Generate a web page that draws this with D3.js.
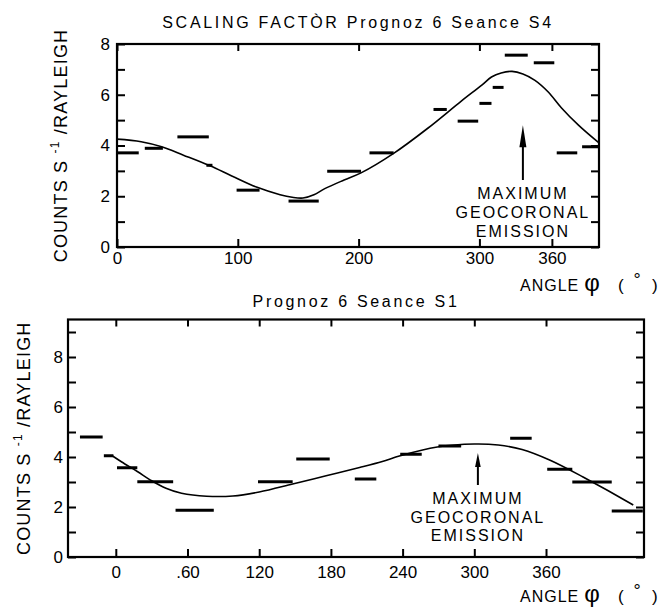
<!DOCTYPE html>
<html>
<head>
<meta charset="utf-8">
<script src="https://cdn.jsdelivr.net/npm/d3@7"></script>
<style>
    body { margin: 0; background: #fff; }
    svg { font-family: "Liberation Sans", Arial, sans-serif; }
    .frame { fill: none; stroke: #000; stroke-width: 2.2; }
    .tick line { stroke: #000; stroke-width: 2; }
    .tick text { font-family: "Liberation Sans", Arial, sans-serif; font-size: 17px; fill: #000; }
    .bar { stroke: #000; stroke-width: 3; }
    .curve { fill: none; stroke: #000; stroke-width: 1.6; }
    .note { font-size: 16px; letter-spacing: 2px; fill: #000; }
</style>
</head>
<body>
<div id="chart"></div>
<script>
// ---- top panel: Prognoz 6, seance S4 ----
// measured bins: [angle from, angle to, counts]
var s4Bars = [
    [0, 18, 3.71], [23, 38, 3.89], [50, 76, 4.34], [74, 79, 3.22],
    [99, 118, 2.24], [142, 167, 1.81], [174, 202, 2.99], [209, 229, 3.71],
    [262, 273, 5.42], [282, 299, 4.96], [300, 310, 5.66], [311, 320, 6.29],
    [321, 340, 7.56], [345, 362, 7.26], [364, 381, 3.71], [385, 399, 3.95]
];
// fitted curve: [angle, counts]
var s4Curve = [
    [0, 4.25], [20, 4.15], [37, 3.95], [55, 3.62], [77, 3.2], [95, 2.8],
    [116, 2.35], [135, 2.06], [145, 1.96], [154, 1.93], [163, 2.06], [172, 2.3],
    [188, 2.64], [202, 2.92], [229, 3.69], [257, 4.67], [285, 5.75], [302, 6.38],
    [310, 6.7], [318, 6.86], [327, 6.92], [336, 6.82], [346, 6.57], [357, 6.11],
    [368, 5.48], [382, 4.8], [399, 4.1]
];
var s4Arrow = [336, 2.64, 4.8];       // angle, base, tip
var s4XTicks = [0, 100, 200, 300, 360];
var s4XLabels = ["0", "100", "200", "300", "360"];
var s4YTicks = [0, 1, 2, 3, 4, 5, 6, 7, 8];
var s4YLabels = ["0", "", "2", "", "4", "", "6", "", "8"];

// ---- bottom panel: Prognoz 6, seance S1 ----
var s1Bars = [
    [-30, -11, 4.8], [-10, -2, 4.05], [1, 18, 3.57], [18, 48, 3.01],
    [50, 82, 1.87], [119, 148, 3.01], [151, 179, 3.92], [200, 218, 3.12],
    [238, 256, 4.11], [270, 289, 4.44], [330, 348, 4.75], [361, 382, 3.51],
    [382, 415, 3.0], [415, 441, 1.84]
];
var s1Curve = [
    [-3, 4.05], [5, 3.8], [18, 3.42], [30, 3.05], [42, 2.75], [55, 2.55],
    [76, 2.43], [98, 2.44], [120, 2.6], [148, 2.92], [176, 3.25], [204, 3.58],
    [223, 3.82], [238, 4.05], [269, 4.4], [300, 4.52], [320, 4.48], [340, 4.3],
    [363, 3.88], [391, 3.2], [433, 2.08]
];
var s1Arrow = [303, 2.88, 4.16];
var s1XTicks = [0, 60, 120, 180, 240, 300, 360];
var s1XLabels = ["0", ".60", "120", "180", "240", "300", "360"];
var s1YTicks = [0, 1, 2, 3, 4, 5, 6, 7, 8, 9];
var s1YLabels = ["0", "", "2", "", "4", "", "6", "", "8", ""];

var noteLines = ["MAXIMUM", "GEOCORONAL", "EMISSION"];

function init() {

    var w = 659;
    var h = 610;

    var svg = d3.select("#chart")
                .append("svg")
                .attr("width", w)
                .attr("height", h);

    drawPanel(svg, {
        left: 117, right: 599, top: 44, bottom: 247,
        xDomain: [0, 399], yDomain: [0, 8],
        xTicks: s4XTicks, xLabels: s4XLabels,
        yTicks: s4YTicks, yLabels: s4YLabels,
        xPad: 5, yPad: 7,
        bars: s4Bars, curve: s4Curve, arrow: s4Arrow,
        headLen: 22, headW: 3.5, noteStep: 19,
        title: "SCALING FACTÒR Prognoz 6 Seance S4", titleY: 28,
        yLabelX: 67, angleY: 291
    });

    drawPanel(svg, {
        left: 68, right: 644, top: 319.5, bottom: 557,
        xDomain: [-40, 442], yDomain: [0, 9.5],
        xTicks: s1XTicks, xLabels: s1XLabels,
        yTicks: s1YTicks, yLabels: s1YLabels,
        xPad: 9, yPad: 5,
        bars: s1Bars, curve: s1Curve, arrow: s1Arrow,
        headLen: 14, headW: 2.8, noteStep: 18.5,
        title: "Prognoz 6 Seance S1", titleY: 307,
        yLabelX: 30, angleY: 602
    });
}

function drawPanel(svg, p) {

    var xScale = d3.scaleLinear().domain(p.xDomain).range([p.left, p.right]);
    var yScale = d3.scaleLinear().domain(p.yDomain).range([p.bottom, p.top]);

    // ticks on all four sides, pointing inward
    var xAxis = d3.axisBottom(xScale)
                  .tickValues(p.xTicks)
                  .tickFormat(function(d, i) { return p.xLabels[i]; })
                  .tickSizeInner(-8).tickSizeOuter(0).tickPadding(p.xPad);
    var xTop = d3.axisTop(xScale)
                 .tickValues(p.xTicks).tickFormat("")
                 .tickSizeInner(-7).tickSizeOuter(0);
    var yAxis = d3.axisLeft(yScale)
                  .tickValues(p.yTicks)
                  .tickFormat(function(d, i) { return p.yLabels[i]; })
                  .tickSizeInner(-8).tickSizeOuter(0).tickPadding(p.yPad);
    var yRight = d3.axisRight(yScale)
                   .tickValues(p.yTicks).tickFormat("")
                   .tickSizeInner(-8).tickSizeOuter(0);

    svg.append("g").attr("transform", "translate(0," + p.bottom + ")").call(xAxis);
    svg.append("g").attr("transform", "translate(0," + p.top + ")").call(xTop);
    svg.append("g").attr("transform", "translate(" + p.left + ",0)").call(yAxis);
    svg.append("g").attr("transform", "translate(" + p.right + ",0)").call(yRight);
    svg.selectAll(".domain").remove();

    svg.append("rect")
        .attr("class", "frame")
        .attr("x", p.left).attr("y", p.top)
        .attr("width", p.right - p.left)
        .attr("height", p.bottom - p.top);

    // measured bins as horizontal dashes
    svg.append("g").selectAll("line")
        .data(p.bars)
        .enter().append("line")
        .attr("class", "bar")
        .attr("x1", function(d) { return xScale(d[0]); })
        .attr("x2", function(d) { return xScale(d[1]); })
        .attr("y1", function(d) { return yScale(d[2]); })
        .attr("y2", function(d) { return yScale(d[2]); });

    // model curve
    var line = d3.line()
                 .x(function(d) { return xScale(d[0]); })
                 .y(function(d) { return yScale(d[1]); })
                 .curve(d3.curveCatmullRom);

    svg.append("path")
        .datum(p.curve)
        .attr("class", "curve")
        .attr("d", line);

    // arrow to the maximum
    var ax = xScale(p.arrow[0]);
    var aBase = yScale(p.arrow[1]);
    var aTip = yScale(p.arrow[2]);
    svg.append("line")
        .attr("x1", ax).attr("x2", ax)
        .attr("y1", aBase).attr("y2", aTip + p.headLen - 1)
        .attr("stroke", "#000").attr("stroke-width", 2);
    svg.append("path")
        .attr("d", "M" + ax + "," + aTip +
                   "L" + (ax - p.headW) + "," + (aTip + p.headLen) +
                   "L" + (ax + p.headW) + "," + (aTip + p.headLen) + "Z")
        .attr("fill", "#000");

    svg.append("g").selectAll("text")
        .data(noteLines)
        .enter().append("text")
        .attr("class", "note")
        .attr("x", ax)
        .attr("y", function(d, i) { return aBase + 19 + i * p.noteStep; })
        .attr("text-anchor", "middle")
        .text(function(d) { return d; });

    // title
    svg.append("text")
        .attr("x", (p.left + p.right) / 2)
        .attr("y", p.titleY)
        .attr("text-anchor", "middle")
        .style("font-size", "16px")
        .style("letter-spacing", "2.7px")
        .text(p.title);

    // y label
    var yl = svg.append("text")
        .attr("transform", "translate(" + p.yLabelX + "," + ((p.top + p.bottom) / 2) + ") rotate(-90)")
        .attr("text-anchor", "middle")
        .style("font-size", "18px")
        .style("letter-spacing", "1.2px");
    yl.append("tspan").text("COUNTS S ");
    yl.append("tspan").attr("dy", -8).style("font-size", "12px").text("-1");
    yl.append("tspan").attr("dy", 8).text(" /RAYLEIGH");

    // x label
    var g = svg.append("g").attr("transform", "translate(520," + p.angleY + ")");
    g.append("text").attr("x", 0).style("font-size", "16px").style("letter-spacing", "1px").text("ANGLE");
    g.append("text").attr("x", 72).attr("text-anchor", "middle").style("font-size", "24px").text("φ");
    g.append("text").attr("x", 98).style("font-size", "17px").text("(");
    g.append("text").attr("x", 117).attr("y", -5).attr("text-anchor", "middle").style("font-size", "18px").text("°");
    g.append("text").attr("x", 132).style("font-size", "17px").text(")");
}

window.onload = init;
</script>
</body>
</html>
